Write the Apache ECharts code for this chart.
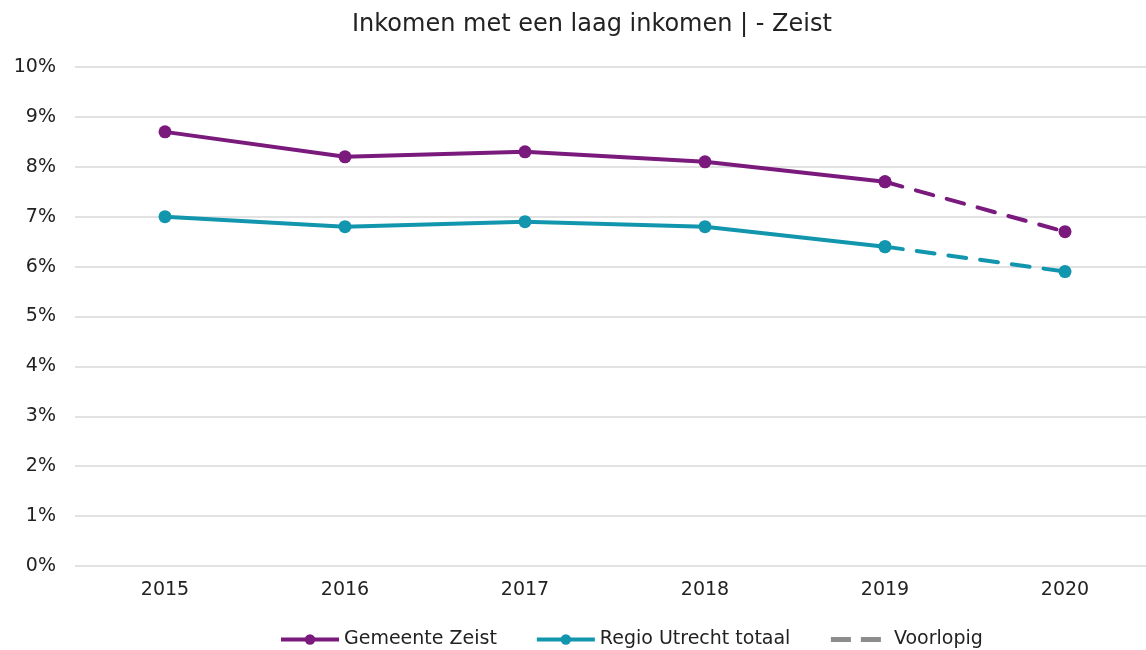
<!DOCTYPE html>
<html>
<head>
<meta charset="utf-8">
<script src="https://cdn.jsdelivr.net/npm/echarts@6/dist/echarts.min.js"></script>
<style>
  html, body { margin: 0; padding: 0; background: #fff; overflow: hidden; }
  #chart { width: 1155px; height: 650px; }
</style>
</head>
<body>
<div id="chart"></div>
<script>
var years = ['2015', '2016', '2017', '2018', '2019', '2020'];
// definitieve cijfers
var zeist = [8.7, 8.2, 8.3, 8.1, 7.7, null];
var regio = [7.0, 6.8, 6.9, 6.8, 6.4, null];
// voorlopige cijfers (stippellijn)
var zeistVoorlopig = [null, null, null, null, 7.7, 6.7];
var regioVoorlopig = [null, null, null, null, 6.4, 5.9];

var paars = '#7a1a7d';
var blauw = '#1296ae';
var font = 'DejaVu Sans';
var streep = [18, 14];

// plotvlak loopt iets voorbij de rechterrand van het venster
var myChart = echarts.init(document.getElementById('chart'));

myChart.setOption({
    animation: false,
    title: {
        text: 'Inkomen met een laag inkomen | - Zeist',
        left: 347,
        top: 8,
        textStyle: { fontFamily: font, fontSize: 24, fontWeight: 'normal', color: '#222' }
    },
    legend: {
        top: 625,
        left: 274,
        itemWidth: 58,
        itemHeight: 13,
        itemGap: 38,
        textStyle: { fontFamily: font, fontSize: 19, color: '#222' },
        lineStyle: { width: 4 },
        data: [
            'Gemeente Zeist',
            'Regio Utrecht totaal',
            { name: 'Voorlopig', itemStyle: { opacity: 0 }, lineStyle: { width: 5, type: [20, 10] } }
        ]
    },
    grid: { left: 75, right: 0, top: 67, bottom: 84 },
    xAxis: {
        type: 'category',
        data: years,
        boundaryGap: true,
        axisLine: { show: false },
        axisTick: { show: false },
        axisLabel: { fontFamily: font, fontSize: 19, color: '#222', margin: 15 }
    },
    yAxis: {
        type: 'value',
        min: 0,
        max: 10,
        interval: 1,
        axisLabel: { fontFamily: font, fontSize: 19, color: '#222', formatter: '{value}%', margin: 19 },
        splitLine: { lineStyle: { color: '#d9d9d9', width: 1.5 } }
    },
    series: [
        {
            name: 'Gemeente Zeist',
            type: 'line',
            data: zeist,
            symbol: 'circle',
            symbolSize: 13,
            lineStyle: { color: paars, width: 4 },
            itemStyle: { color: paars }
        },
        {
            name: 'Regio Utrecht totaal',
            type: 'line',
            data: regio,
            symbol: 'circle',
            symbolSize: 13,
            lineStyle: { color: blauw, width: 4 },
            itemStyle: { color: blauw }
        },
        {
            name: 'Gemeente Zeist',
            type: 'line',
            data: zeistVoorlopig,
            symbol: 'circle',
            symbolSize: 13,
            lineStyle: { color: paars, width: 4, type: streep, cap: 'round' },
            itemStyle: { color: paars }
        },
        {
            name: 'Regio Utrecht totaal',
            type: 'line',
            data: regioVoorlopig,
            symbol: 'circle',
            symbolSize: 13,
            lineStyle: { color: blauw, width: 4, type: streep, cap: 'round' },
            itemStyle: { color: blauw }
        },
        {
            name: 'Voorlopig',
            type: 'line',
            data: [],
            symbol: 'none',
            lineStyle: { color: '#8c8c8c', width: 5, type: [20, 10] },
            itemStyle: { color: '#8c8c8c' }
        }
    ]
});
</script>
</body>
</html>
